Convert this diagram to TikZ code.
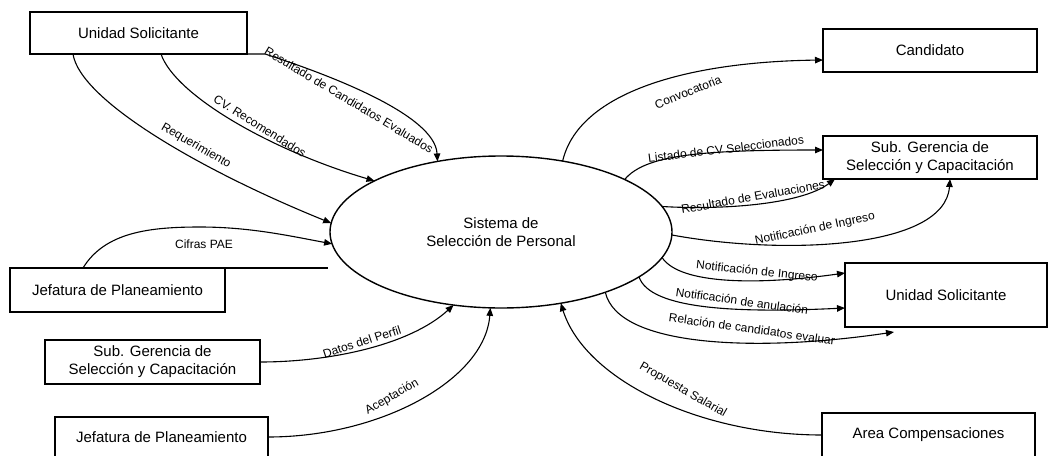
\documentclass[tikz,border=0pt]{standalone}
\usepackage{fontspec}
\setmainfont{Liberation Sans}
\usetikzlibrary{arrows.meta,shapes.geometric}
\begin{document}
\begin{tikzpicture}[x=1pt,y=-1pt,
  entity/.style={draw,line width=1.3pt,inner sep=0pt,outer sep=0pt,
    font=\fontsize{15}{18}\selectfont,align=center},
  proc/.style={ellipse,draw,line width=1.4pt,inner sep=0pt,outer sep=0pt,
    minimum width=342pt,minimum height=152pt,
    font=\fontsize{15}{18}\selectfont,align=center},
  flow/.style={line width=1.1pt,-{Triangle[length=8pt,width=6.5pt]}},
  plain/.style={line width=1.1pt},
  lbl/.style={font=\fontsize{12}{14}\selectfont,inner sep=0pt}]
\useasboundingbox (0,0) rectangle (1048,455);

% central process
\node[proc] (sys) at (501,232) {Sistema de\\Selección de Personal};

% external entities
\node[entity,minimum width=217pt,minimum height=42pt] (usl) at (138.5,33) {Unidad Solicitante};
\node[entity,minimum width=215pt,minimum height=44pt] (jp1) at (117.5,290) {Jefatura de Planeamiento};
\node[entity,minimum width=215pt,minimum height=44pt] (sgl) at (152.5,362) {Sub. Gerencia de\\Selección y Capacitación};
\node[entity,minimum width=213pt,minimum height=40pt] (jp2) at (161.5,437) {Jefatura de Planeamiento};
\node[entity,minimum width=214pt,minimum height=43pt] (cand) at (930,50.5) {Candidato};
\node[entity,minimum width=214pt,minimum height=43pt] (sgr) at (930,157.5) {Sub. Gerencia de\\Selección y Capacitación};
\node[entity,minimum width=202pt,minimum height=64pt] (usr) at (946,295) {Unidad Solicitante};
\node[entity,minimum width=213pt,minimum height=44pt] (area) at (928.5,435) {Area Compensaciones};

% inputs from the left
\draw[flow] ([xshift=43pt]usl.south west) .. controls (80,100) and (200,170) .. (sys.177);
\draw[flow] ([xshift=131pt]usl.south west) .. controls (175,95) and (270,150) .. (sys.158);
\draw[flow] (usl.south east) -- ([xshift=18pt]usl.south east)
  .. controls (330,75) and (435,115) .. (sys.132);
\coordinate (jpline) at (328,268);
\draw[plain] (jp1.north east) -- (jpline);
\draw[flow] ([xshift=73pt]jp1.north west) .. controls (105,232) and (150,227) .. (200,227)
  .. controls (250,227) and (290,236) .. (sys.184);
\draw[flow] (sgl.east) .. controls (330,362) and (410,345) .. (sys.237);
\draw[flow] (jp2.east) .. controls (380,437) and (485,380) .. (sys.262);
\draw[flow] (area.west) .. controls (700,435) and (585,380) .. (sys.310);

% outputs to the right
\draw[flow] (sys.49) .. controls (578,95) and (680,62) .. ([yshift=-9.5pt]cand.west);
\draw[flow] (sys.23) .. controls (645,155) and (700,150) .. ([yshift=7.5pt]sgr.west);
\draw[flow] (sys.9) .. controls (720,210) and (800,205) .. ([xshift=12pt]sgr.south west);
\draw[flow] (sys.359) .. controls (780,255) and (945,250) .. ([xshift=127pt]sgr.south west);
\draw[flow] (sys.351) .. controls (680,285) and (760,285) .. ([yshift=22pt]usr.west);
\draw[flow] (sys.342) .. controls (650,310) and (740,313) .. ([yshift=-13pt]usr.west);
\draw[flow] (sys.330) .. controls (618,348) and (760,352) .. ([xshift=49pt,yshift=-5pt]usr.south west);

% flow labels
\node[lbl,rotate=-30] (lreq) at (196,146) {Requerimiento};
\node[lbl,rotate=-32] (lcv) at (260,126) {CV. Recomendados};
\node[lbl,rotate=-31] (lrce) at (349,100) {Resultado de Candidatos Evaluados};
\node[lbl] (lpae) at (204,244) {Cifras PAE};
\node[lbl,rotate=18] (ldat) at (362,342) {Datos del Perfil};
\node[lbl,rotate=30] (lacp) at (392,397) {Aceptación};
\node[lbl,rotate=-30] (lpro) at (683,390) {Propuesta Salarial};
\node[lbl,rotate=22] (lcon) at (688,92) {Convocatoria};
\node[lbl,rotate=7] (llis) at (726,149) {Listado de CV Seleccionados};
\node[lbl,rotate=10] (lrev) at (753,197) {Resultado de Evaluaciones};
\node[lbl,rotate=12] (lni1) at (815,229) {Notificación de Ingreso};
\node[lbl,rotate=-6] (lni2) at (757,272) {Notificación de Ingreso};
\node[lbl,rotate=-8] (lanu) at (742,301) {Notificación de anulación};
\node[lbl,rotate=-8] (lrel) at (752,329) {Relación de candidatos evaluar};
\end{tikzpicture}
\end{document}
